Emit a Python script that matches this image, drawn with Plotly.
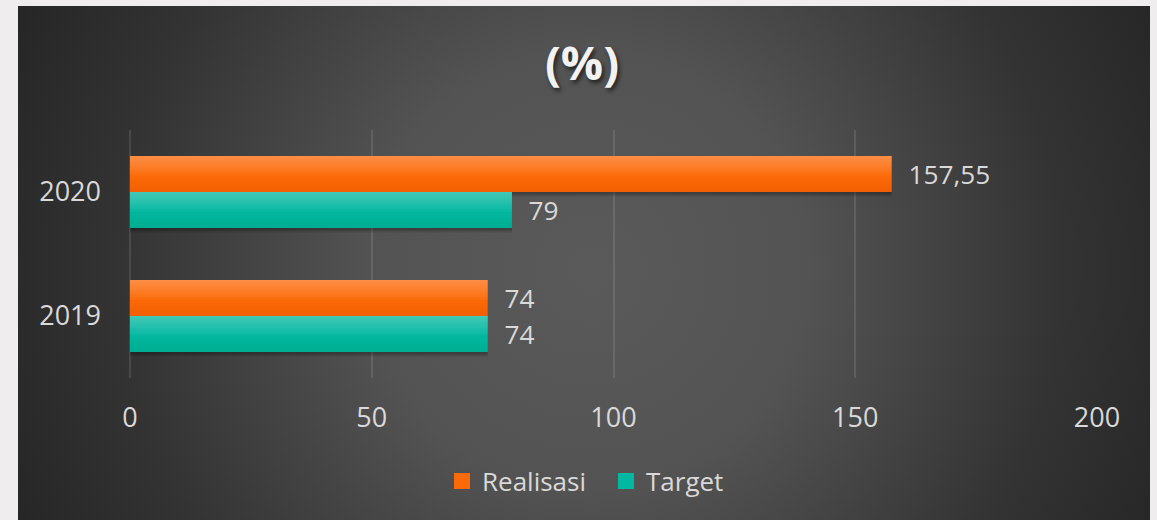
import base64
import plotly.graph_objects as go

# ---- data ----
years = ["2019", "2020"]
realisasi = [74, 157.55]
target = [74, 79]
series_names = ["Realisasi", "Target"]
x_ticks = [0, 50, 100, 150, 200]
title_text = "(%)"

# ---- styling ----
W, H = 1157, 520
ML, MR, MT, MB = 130, 60, 130, 142
PW, PH = W - ML - MR, H - MT - MB
FONT = "Open Sans"
TXT = "#d9d9d9"
ORANGE = "#fc6a08"
TEAL = "#03b8a0"
BW = 0.29

svg = f'''<svg xmlns="http://www.w3.org/2000/svg" width="{W}" height="{H}" viewBox="0 0 {W} {H}">
<defs><radialGradient id="g" gradientUnits="userSpaceOnUse" cx="590" cy="270" r="630">
<stop offset="0" stop-color="#5a5a5a"/><stop offset="0.35" stop-color="#535353"/>
<stop offset="0.75" stop-color="#333333"/><stop offset="1" stop-color="#262626"/></radialGradient></defs>
<rect x="0" y="0" width="{W}" height="{H}" fill="#efeded"/>
<rect x="18" y="6" width="1132" height="514" fill="url(#g)"/></svg>'''
bg_src = "data:image/svg+xml;base64," + base64.b64encode(svg.encode()).decode()


def fmt(v):
    return ("%g" % v).replace(".", ",")


fig = go.Figure()


def bar(vals, off, width, color, **kw):
    return go.Bar(y=years, x=vals, orientation="h", offset=off, width=width,
                  marker=dict(color=color, line=dict(width=0)), **kw)


def add_series(vals, name, color, base_off, shade):
    # soft shadow below
    for d in (0.012, 0.024, 0.036):
        fig.add_trace(bar(vals, base_off - d, BW, "rgba(0,0,0,0.10)", showlegend=False, hoverinfo="skip"))
    # main bar
    fig.add_trace(bar(vals, base_off, BW, color, name=name,
                      text=["\u00a0\u00a0" + fmt(v) for v in vals], textposition="outside",
                      textfont=dict(family=FONT, size=27, color=TXT), cliponaxis=False,
                      showlegend=False))
    # smooth-ish top highlight
    n = 8
    for i in range(n):
        frac = 0.55 * (n - i) / n
        fig.add_trace(bar(vals, base_off + BW * (1 - frac), BW * frac, "rgba(255,255,255,0.035)",
                          showlegend=False, hoverinfo="skip"))
    # bottom shade
    m = 5
    for i in range(m):
        frac = 0.45 * (m - i) / m
        fig.add_trace(bar(vals, base_off, BW * frac, shade, showlegend=False, hoverinfo="skip"))
    # legend entry
    fig.add_trace(go.Scatter(x=[None], y=[None], mode="markers", name=name,
                             marker=dict(symbol="square", size=18, color=color)))


add_series(realisasi, series_names[0], ORANGE, 0.0, "rgba(190,50,0,0.035)")
add_series(target, series_names[1], TEAL, -BW, "rgba(0,80,70,0.02)")

grid = "rgba(255,255,255,0.11)"
fig.update_layout(
    width=W, height=H,
    margin=dict(l=ML, r=MR, t=MT, b=MB, autoexpand=False),
    paper_bgcolor="#efeded", plot_bgcolor="rgba(0,0,0,0)",
    barmode="overlay",
    font=dict(family=FONT, size=27, color=TXT),
    title=dict(text="<b>" + title_text + "</b>", x=582 / W, xanchor="center", y=1 - 64 / H, yanchor="middle",
               font=dict(family=FONT, size=47, color="#f2f2f2", shadow="2px 3px 4px rgba(0,0,0,0.6)")),
    xaxis=dict(range=[0, 200], tickvals=x_ticks, showgrid=True, gridcolor=grid, gridwidth=1.5,
               zeroline=True, zerolinecolor=grid, zerolinewidth=1.5, showline=False,
               ticks="", ticklabelstandoff=21, tickfont=dict(family=FONT, size=27, color=TXT), fixedrange=True),
    yaxis=dict(type="category", categoryorder="array", categoryarray=years, range=[-0.5, 1.5],
               showgrid=False, zeroline=False, showline=False, ticks="", ticklabelstandoff=28,
               tickfont=dict(family=FONT, size=27, color=TXT)),
    legend=dict(orientation="h", x=(442 - ML) / PW, xanchor="left", y=(PH - (481 - MT)) / PH,
                yanchor="middle", bgcolor="rgba(0,0,0,0)", font=dict(family=FONT, size=26, color=TXT),
                itemclick=False, tracegroupgap=0, entrywidth=119, entrywidthmode="pixels"),
    images=[dict(source=bg_src, xref="paper", yref="paper", x=-ML / PW, y=1 + MT / PH,
                 sizex=W / PW, sizey=H / PH, xanchor="left", yanchor="top", sizing="stretch",
                 layer="below")],
    showlegend=True,
)

fig.write_html("out.html", config={"displayModeBar": False},
               post_script="document.body.style.margin='0';document.body.style.background='#efeded';")
